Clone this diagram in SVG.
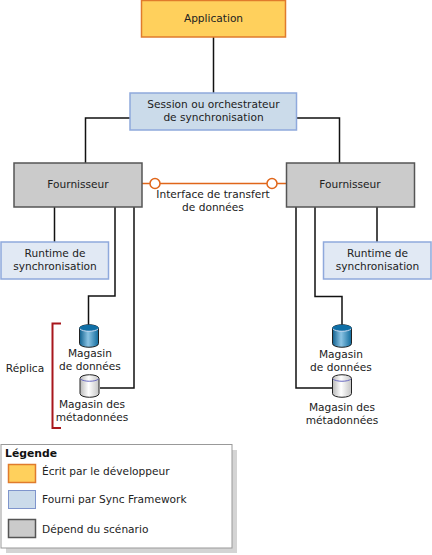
<svg xmlns="http://www.w3.org/2000/svg" width="432" height="555" viewBox="0 0 432 555">
<defs>
<linearGradient id="blueCyl" x1="0" x2="1" y1="0" y2="0"><stop offset="0" stop-color="#0e5f8e"/><stop offset="0.45" stop-color="#8cc4e4"/><stop offset="1" stop-color="#0f6a9c"/></linearGradient>
<linearGradient id="greyCyl" x1="0" x2="1" y1="0" y2="0"><stop offset="0" stop-color="#b8b8b8"/><stop offset="0.45" stop-color="#ffffff"/><stop offset="1" stop-color="#c4c4c4"/></linearGradient>
<symbol id="cylB" overflow="visible"><path class="cyl" fill="url(#blueCyl)" d="M0.5 4.5C0.5 -0.5 19.5 -0.5 19.5 4.5V19.5C19.5 24.5 0.5 24.5 0.5 19.5Z"/><path d="M0.5 4.5C0.5 -0.5 19.5 -0.5 19.5 4.5C19.5 8 0.5 8 0.5 4.5Z" fill="#0f6fa6"/><path d="M1 5C4 8 16 8 19 5" fill="none" stroke="#c8d8f0" stroke-width="1"/></symbol>
<symbol id="cylG" overflow="visible"><path class="cyl" fill="url(#greyCyl)" d="M0.5 4.5C0.5 -0.5 19.5 -0.5 19.5 4.5V19.5C19.5 24.5 0.5 24.5 0.5 19.5Z"/><path d="M1 5C4 8 16 8 19 5" fill="none" stroke="#6a6ac0" stroke-width="1"/></symbol>
</defs>
<style>
text{font-family:"DejaVu Sans",Verdana,sans-serif;font-size:10.6px;fill:#222;text-anchor:middle}
.l{text-anchor:start}
.org{fill:#ffd05c;stroke:#e07b2c;stroke-width:1.5}
.blu{fill:#cbdbea;stroke:#8fa9dc;stroke-width:1.5}
.lbl{fill:#e1e9f4;stroke:#8fa9dc;stroke-width:1.5}
.gry{fill:#cbcbcb;stroke:#555;stroke-width:1.5}
.c{fill:none;stroke:#111;stroke-width:1.5}
.cyl{stroke:#222;stroke-width:1}
</style>
<rect width="432" height="555" fill="#fff"/>
<g id="connectors">
<path class="c" d="M213.5 37V93M130 118H85.5V163M296 118H339.5V163M54.5 207V242M115 207V296H88.5V325M134 207V388H100M296 207V388H332M315 207V296.5H342V325M377 207V242"/>
<path fill="none" stroke="#e0661a" stroke-width="1.5" d="M142 183.5H150M160 183.5H267M277 183.5H286"/>
<circle cx="155" cy="183.5" r="5" fill="#fff" stroke="#e0661a" stroke-width="1.5"/>
<circle cx="272" cy="183.5" r="5" fill="#fff" stroke="#e0661a" stroke-width="1.5"/>
<text x="213" y="198">Interface de transfert</text>
<text x="213" y="211">de données</text>
</g>
<g id="application"><rect class="org" x="141.5" y="0.5" width="144" height="36.5"/><text x="213.5" y="22">Application</text></g>
<g id="session"><rect class="blu" x="130" y="93" width="166.5" height="37"/><text x="213.5" y="108">Session ou orchestrateur</text><text x="213.5" y="121">de synchronisation</text></g>
<g id="fournisseur-g"><rect class="gry" x="14" y="163" width="128" height="44"/><text x="78" y="188">Fournisseur</text></g>
<g id="fournisseur-d"><rect class="gry" x="286.5" y="163" width="128" height="44"/><text x="350" y="188">Fournisseur</text></g>
<g id="runtime-g"><rect class="lbl" x="1" y="242" width="107.5" height="37"/><text x="55" y="257">Runtime de</text><text x="55" y="270">synchronisation</text></g>
<g id="runtime-d"><rect class="lbl" x="323.5" y="242" width="107.5" height="37"/><text x="377.5" y="257">Runtime de</text><text x="377.5" y="270">synchronisation</text></g>
<g id="magasin-donnees-g"><use href="#cylB" x="79" y="324"/><text x="90" y="357">Magasin</text><text x="90" y="370">de données</text></g>
<g id="magasin-meta-g"><use href="#cylG" x="79.5" y="374"/><text x="92" y="408">Magasin des</text><text x="92" y="421">métadonnées</text></g>
<g id="magasin-donnees-d"><use href="#cylB" x="332" y="324"/><text x="341" y="358">Magasin</text><text x="341" y="371">de données</text></g>
<g id="magasin-meta-d"><use href="#cylG" x="332" y="374"/><text x="342" y="411">Magasin des</text><text x="342" y="424">métadonnées</text></g>
<g id="replica"><path fill="none" stroke="#a8161c" stroke-width="2" d="M61 323.5H52.5V428H61"/><text x="25" y="372">Réplica</text></g>
<g id="legende">
<rect x="6" y="450" width="231" height="103" fill="#d4d4d4"/>
<rect x="1" y="444.5" width="231" height="103.5" fill="#fff" stroke="#999" stroke-width="1"/>
<text class="l" x="5" y="457" style="font-weight:bold;fill:#111;font-size:10.8px">Légende</text>
<rect class="org" x="8.5" y="464.5" width="27" height="18"/><text class="l" x="42" y="475">Écrit par le développeur</text>
<rect x="8.5" y="490.5" width="27" height="18" fill="#cbdbea" stroke="#7f95cc" stroke-width="1"/><text class="l" x="42" y="503">Fourni par Sync Framework</text>
<rect class="gry" x="8.5" y="519.5" width="27" height="18"/><text class="l" x="42" y="533">Dépend du scénario</text>
</g>
</svg>
